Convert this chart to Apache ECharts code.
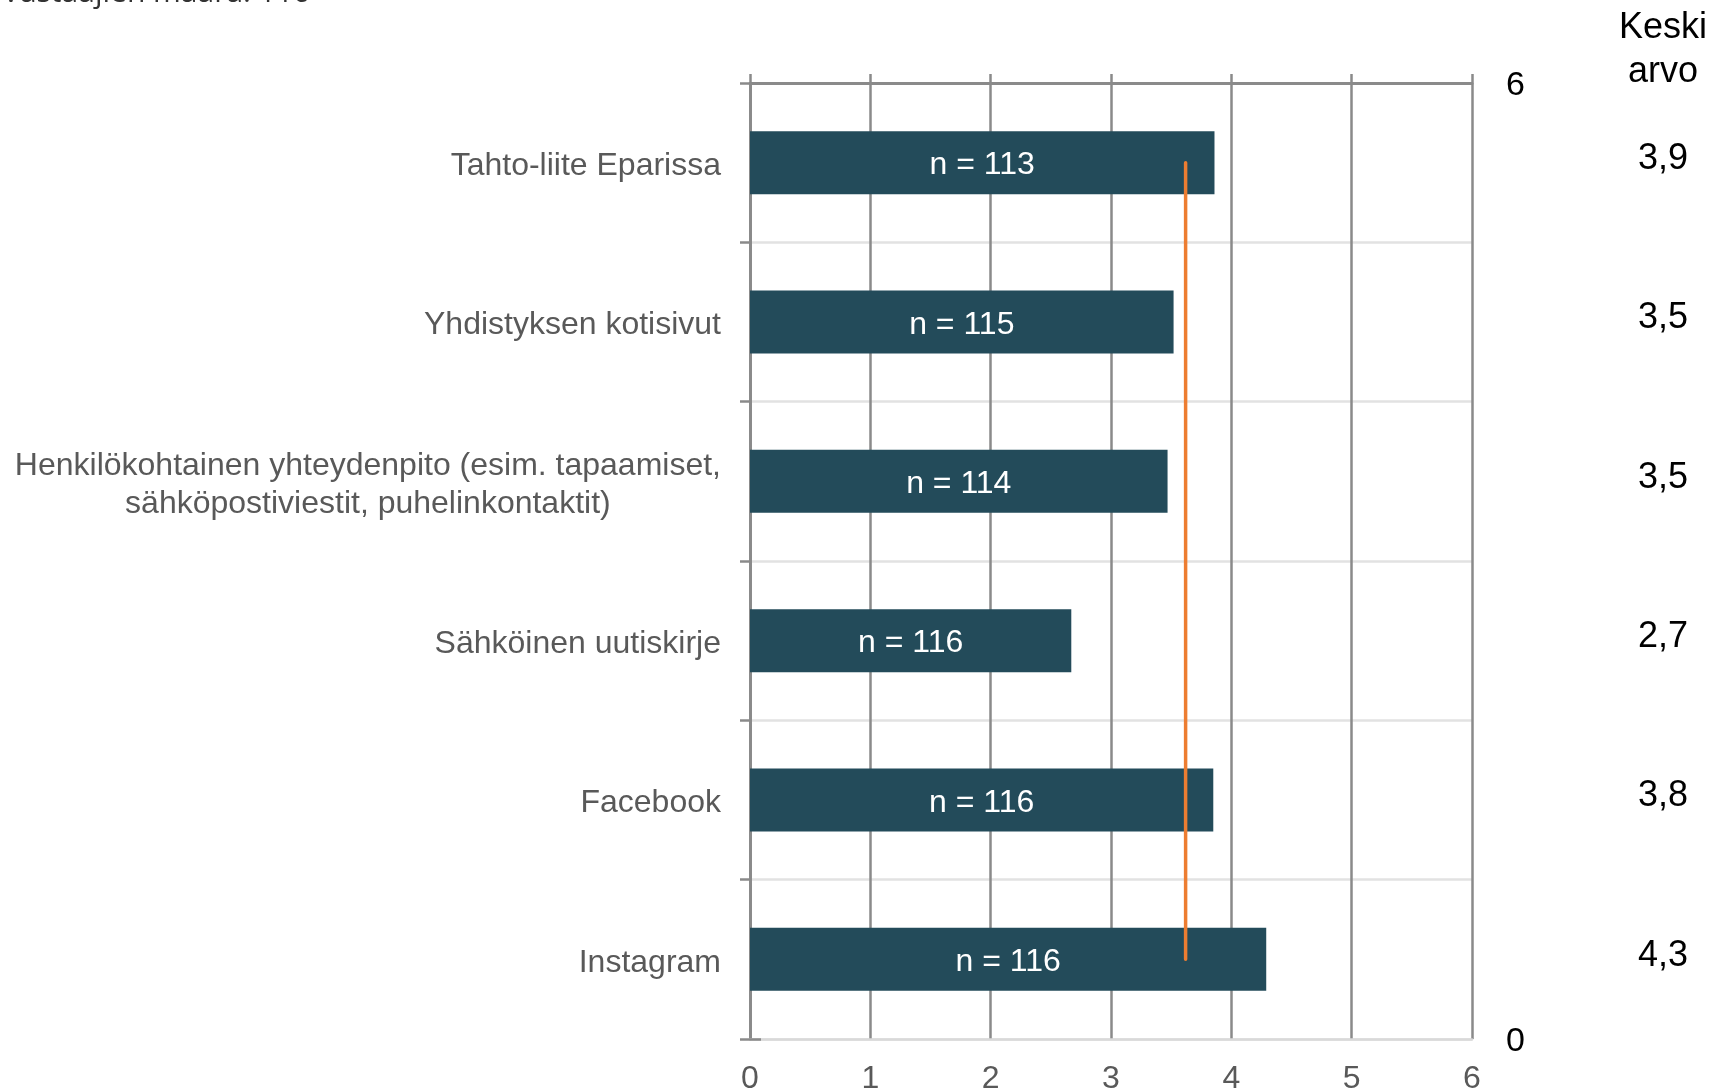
<!DOCTYPE html>
<html>
<head>
<meta charset="utf-8">
<script src="https://cdn.jsdelivr.net/npm/echarts@6/dist/echarts.min.js"></script>
<style>
  html, body { margin: 0; padding: 0; background: #fff; }
  #chart { width: 1716px; height: 1092px; }
</style>
</head>
<body>
<div id="chart"></div>
<script>
// ---- data ----
const categories = [
  'Tahto-liite Eparissa',
  'Yhdistyksen kotisivut',
  'Henkilökohtainen yhteydenpito (esim. tapaamiset,\nsähköpostiviestit, puhelinkontaktit)',
  'Sähköinen uutiskirje',
  'Facebook',
  'Instagram'
];
const barValues = [3.86, 3.52, 3.47, 2.67, 3.85, 4.29];
const nCounts = [113, 115, 114, 116, 116, 116];
const meanLabels = ['3,9', '3,5', '3,5', '2,7', '3,8', '4,3'];
const overallMean = 3.62;
const xTicks = [0, 1, 2, 3, 4, 5, 6];
const respondentText = 'Vastaajien määrä: 116';
const meanHeader = ['Keski', 'arvo'];

// ---- chart ----
const FONT = '"Liberation Sans", Arial, sans-serif';
const GRID_DARK = '#8a8a8a';
const GRID_LIGHT = '#e2e2e2';
const chart = echarts.init(document.getElementById('chart'), null, { renderer: 'canvas' });

const option = {
  backgroundColor: '#ffffff',
  animation: false,
  textStyle: { fontFamily: FONT },
  grid: { left: 750, right: 244, top: 83, bottom: 53, containLabel: false, outerBoundsMode: 'none' },
  xAxis: [
    {
      type: 'value', position: 'bottom', min: 0, max: 6, interval: 1,
      axisLine: { show: true, lineStyle: { color: '#d9d9d9', width: 2.5 } },
      axisTick: { show: false },
      axisLabel: {
        color: '#595959', fontSize: 32, fontFamily: FONT, margin: 24,
        formatter: v => (xTicks.indexOf(v) >= 0 ? String(v) : '')
      },
      splitLine: { show: true, lineStyle: { color: GRID_DARK, width: 2.5 } }
    },
    {
      type: 'value', position: 'top', min: 0, max: 6, interval: 1,
      axisLine: { show: true, lineStyle: { color: GRID_DARK, width: 3 } },
      axisTick: { show: true, inside: false, length: 9, lineStyle: { color: GRID_DARK, width: 2.5 } },
      axisLabel: { show: false },
      splitLine: { show: false }
    }
  ],
  yAxis: [
    {
      type: 'category', inverse: true, position: 'left', data: categories,
      axisLine: { show: true, lineStyle: { color: GRID_DARK, width: 2.5 } },
      axisTick: { show: true, length: 10, lineStyle: { color: GRID_DARK, width: 2.5 } },
      splitLine: { show: true, lineStyle: { color: GRID_LIGHT, width: 2.5 } },
      axisLabel: {
        margin: 29,
        formatter: v => '{s|}\n{c|' + v.split('\n').join('}\n{c|') + '}',
        rich: {
          s: { lineHeight: 7, fontSize: 4 },
          c: { color: '#595959', fontSize: 32, fontFamily: FONT, align: 'center', lineHeight: 38 }
        }
      }
    },
    {
      type: 'value', position: 'right', min: 0, max: 6, interval: 6,
      axisLine: { show: true, lineStyle: { color: GRID_DARK, width: 2.5 } },
      axisTick: { show: true, length: 11, lineStyle: { color: GRID_DARK, width: 2.5 } },
      axisLabel: {
        margin: 34,
        formatter: v => '{s|}\n{v|' + v + '}',
        rich: {
          s: { lineHeight: 6, fontSize: 4 },
          v: { color: '#000000', fontSize: 34, fontFamily: FONT, lineHeight: 36 }
        }
      },
      splitLine: { show: false }
    },
    {
      type: 'category', inverse: true, position: 'right', offset: 191, data: categories,
      axisLine: { show: false }, axisTick: { show: false }, splitLine: { show: false },
      axisLabel: {
        margin: 0, align: 'center',
        formatter: (v, i) => '{v|' + meanLabels[i] + '}\n{s|}',
        rich: {
          v: { color: '#000000', fontSize: 36, fontFamily: FONT, lineHeight: 38, align: 'center' },
          s: { lineHeight: 7, fontSize: 4 }
        }
      }
    }
  ],
  graphic: [
    {
      type: 'text', left: 2, top: -22, silent: true,
      style: { text: respondentText, fontSize: 30, fontFamily: '"Open Sans", sans-serif', fill: '#333333' }
    },
    {
      type: 'text', x: 1663, y: 28, silent: true,
      style: { text: meanHeader[0], fontSize: 36, fontFamily: FONT, fill: '#000000', align: 'center', verticalAlign: 'middle' }
    },
    {
      type: 'text', x: 1663, y: 72, silent: true,
      style: { text: meanHeader[1], fontSize: 36, fontFamily: FONT, fill: '#000000', align: 'center', verticalAlign: 'middle' }
    }
  ],
  series: [
    {
      type: 'bar', xAxisIndex: 0, yAxisIndex: 0,
      data: barValues,
      barWidth: 63,
      itemStyle: { color: '#234b5a' },
      label: {
        show: true, position: 'inside', color: '#ffffff', fontSize: 32, fontFamily: FONT,
        offset: [0, 3],
        formatter: p => 'n = ' + nCounts[p.dataIndex]
      }
    },
    {
      type: 'line', xAxisIndex: 0, yAxisIndex: 0,
      data: categories.map(c => [overallMean, c]),
      symbol: 'none',
      lineStyle: { color: '#ed7d31', width: 3.5, cap: 'round' },
      z: 5
    }
  ]
};
chart.setOption(option);
</script>
</body>
</html>
